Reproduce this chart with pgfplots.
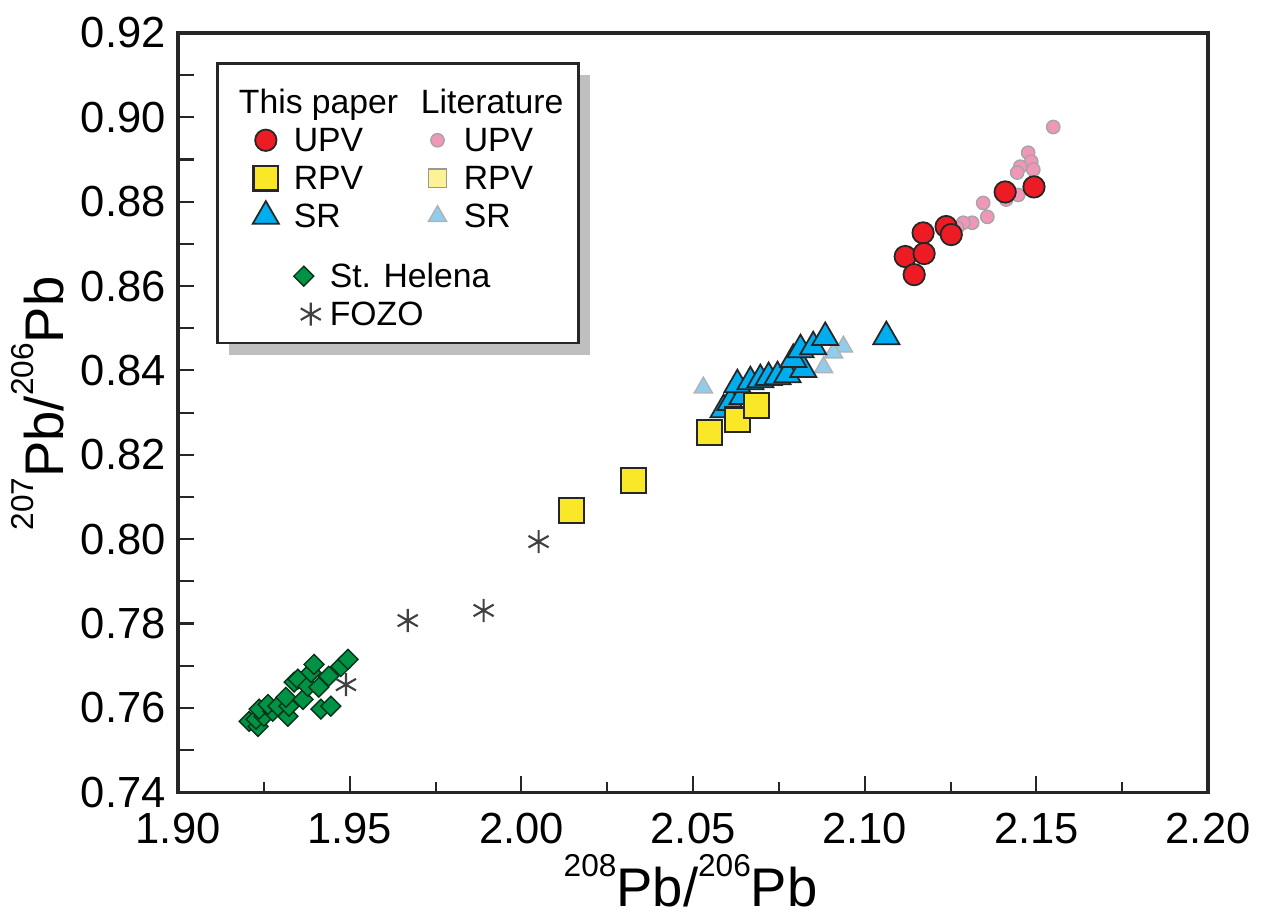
\documentclass[border=0pt]{standalone}
\usepackage{fontspec}
\setmainfont{Liberation Sans}
\usepackage{pgfplots}
\pgfplotsset{compat=1.18}
\usetikzlibrary{shadows}

\definecolor{upvred}{RGB}{237,28,36}
\definecolor{upvpink}{RGB}{240,150,185}
\definecolor{rpvyellow}{RGB}{250,232,40}
\definecolor{rpvlight}{RGB}{252,242,150}
\definecolor{srblue}{RGB}{0,174,239}
\definecolor{srlight}{RGB}{145,205,235}
\definecolor{shgreen}{RGB}{0,146,69}

\tikzset{
 upv/.style={only marks, mark=*, mark size=3.05pt, mark options={fill=upvred, draw=black!85, line width=0.5pt}},
 upvlit/.style={only marks, mark=*, mark size=1.9pt, mark options={fill=upvpink, draw=black!35, line width=0.4pt}},
 rpv/.style={only marks, mark=square*, mark size=3.5pt, mark options={fill=rpvyellow, draw=black!85, line width=0.6pt}},
 rpvlit/.style={only marks, mark=square*, mark size=2.6pt, mark options={fill=rpvlight, draw=black!40, line width=0.4pt}},
 sr/.style={only marks, mark=triangle*, mark size=4.3pt, mark options={fill=srblue, draw=black!85, line width=0.5pt}},
 srlit/.style={only marks, mark=triangle*, mark size=3.0pt, mark options={fill=srlight, draw=black!30, line width=0.4pt}},
 sth/.style={only marks, mark=square*, mark size=2.0pt, mark options={rotate=45, fill=shgreen, draw=black!65!shgreen, line width=0.4pt}},
 fozo/.style={only marks, mark=asterisk, mark size=3.3pt, mark options={draw=black!75, line width=0.6pt}},
}
\pgfplotsset{
 shiftedlegend/.style={legend image code/.code={\path (0,0) (4.7mm,0); \draw[##1,overlay] plot coordinates {(#1,0mm)};}},
}

\pgfplotstableread{
x y
2.1118 0.8670
2.1144 0.8627
2.1170 0.8726
2.1173 0.8677
2.1237 0.8741
2.1252 0.8722
2.1409 0.8823
2.1493 0.8835
}\upvdata

\pgfplotstableread{
x y
2.1549 0.8977
2.1476 0.8916
2.1485 0.8895
2.1491 0.8876
2.1453 0.8883
2.1444 0.8869
2.1447 0.8816
2.1412 0.8805
2.1345 0.8797
2.1357 0.8764
2.1313 0.8750
2.1287 0.8750
2.1269 0.8738
}\upvlitdata

\pgfplotstableread{
x y
2.0146 0.8068
2.0327 0.8139
2.0548 0.8253
2.0629 0.8283
2.0685 0.8317
}\rpvdata

\pgfplotstableread{
x y
2.0589 0.8307
2.0609 0.8324
2.0644 0.8338
2.0629 0.8366
2.0667 0.8373
2.0696 0.8378
2.0720 0.8383
2.0746 0.8385
2.0775 0.8390
2.0821 0.8402
2.0792 0.8426
2.0813 0.8449
2.0850 0.8456
2.0885 0.8478
2.1063 0.8480
}\srdata

\pgfplotstableread{
x y
2.0530 0.8359
2.0938 0.8456
2.0880 0.8407
2.0909 0.8442
}\srlitdata

\pgfplotstableread{
x y
1.9207 0.7568
1.9233 0.7556
1.9227 0.7573
1.9250 0.7580
1.9236 0.7597
1.9276 0.7592
1.9262 0.7608
1.9291 0.7604
1.9320 0.7580
1.9323 0.7604
1.9314 0.7625
1.9364 0.7620
1.9338 0.7661
1.9349 0.7668
1.9378 0.7651
1.9387 0.7684
1.9396 0.7703
1.9410 0.7649
1.9416 0.7597
1.9445 0.7604
1.9439 0.7675
1.9474 0.7698
1.9495 0.7715
}\sthdata

\pgfplotstableread{
x y
1.9489 0.7655
1.9669 0.7807
1.9890 0.7831
2.0050 0.7994
}\fozodata

\begin{document}
\begin{tikzpicture}
\begin{axis}[
 scale only axis, width=10.31cm, height=7.60cm,
 xmin=1.9, xmax=2.2, ymin=0.74, ymax=0.92,
 xtick={1.90,1.95,2.00,2.05,2.10,2.15,2.20},
 xticklabels={1.90,1.95,2.00,2.05,2.10,2.15,2.20},
 ytick={0.74,0.76,0.78,0.80,0.82,0.84,0.86,0.88,0.90,0.92},
 yticklabels={0.74,0.76,0.78,0.80,0.82,0.84,0.86,0.88,0.90,0.92},
 minor x tick num=1,
 extra y ticks={0.75,0.77,0.79,0.81,0.83,0.85,0.87,0.89,0.91},
 extra y tick labels={},
 tick align=inside, xtick pos=bottom, ytick pos=left,
 major tick length=1.6mm, minor tick length=1.0mm,
 axis line style={line width=0.9pt, black!85},
 every tick/.style={black!85, line width=0.6pt},
 ticklabel style={font=\fontsize{12.4}{14}\selectfont},
 xticklabel style={yshift=-0.8mm},
 xlabel={\raisebox{3.0mm}{\fontsize{9}{9}\selectfont 208}Pb/\raisebox{3.0mm}{\fontsize{9}{9}\selectfont 206}Pb},
 ylabel={\raisebox{3.0mm}{\fontsize{9}{9}\selectfont 207}Pb/\raisebox{3.0mm}{\fontsize{9}{9}\selectfont 206}Pb},
 xlabel style={at={(axis description cs:0.4976,-0.150)}, anchor=base, font=\fontsize{15.5}{18}\selectfont},
 ylabel style={at={(axis description cs:-0.111,0.512)}, anchor=base, font=\fontsize{15.5}{18}\selectfont},
 legend columns=2,
 legend cell align=left,
 legend image code/.code={\path (0,0) (4.7mm,0); \draw[#1] plot coordinates {(3.7mm,0mm)};},
 legend style={at={(axis description cs:0.0369,0.9618)}, anchor=north west,
   draw=black!85, line width=0.8pt, fill=white,
   drop shadow={shadow xshift=1.2mm, shadow yshift=-1.2mm, fill=black!25, opacity=1},
   inner xsep=1mm, inner ysep=1mm, row sep=0pt,
   font=\fontsize{9.6}{11}\selectfont,
   nodes={inner xsep=0.5mm, inner ysep=0pt, text height=3.07mm, text depth=0.73mm, line width=0.4pt},
   /tikz/column 2/.style={column sep=3.1mm},
   /tikz/every odd column/.append style={column sep=1.0mm},
 },
]
% legend entries
\addlegendimage{empty legend}\addlegendentry[text height=0.5mm, text depth=0.5mm]{}
\addlegendimage{empty legend}\addlegendentry[text height=0.5mm, text depth=0.5mm]{}
\addlegendimage{empty legend}\addlegendentry{\makebox[0pt][l]{\hspace*{-5.5mm}This paper}}
\addlegendimage{empty legend}\addlegendentry{\hspace*{-4.3mm}Literature}
\addlegendimage{upv}\addlegendentry{UPV}
\addlegendimage{upvlit}\addlegendentry{UPV}
\addlegendimage{rpv}\addlegendentry{RPV}
\addlegendimage{rpvlit}\addlegendentry{RPV}
\addlegendimage{sr}\addlegendentry{SR}
\addlegendimage{srlit}\addlegendentry{SR}
\addlegendimage{empty legend}\addlegendentry[text height=1.1mm, text depth=1.1mm]{}
\addlegendimage{empty legend}\addlegendentry[text height=1.1mm, text depth=1.1mm]{}
\addlegendimage{sth, shiftedlegend=7.5mm}\addlegendentry{\hspace*{3.6mm}\makebox[0pt][l]{St. Helena}}
\addlegendimage{empty legend}\addlegendentry{}
\addlegendimage{fozo, shiftedlegend=8.2mm}\addlegendentry{\hspace*{3.6mm}\makebox[0pt][l]{FOZO}}
\addlegendimage{empty legend}\addlegendentry{}
% data
\addplot[only marks, upvlit, forget plot] table {\upvlitdata};
\addplot[only marks, srlit, forget plot] table {\srlitdata};
\addplot[only marks, sr, forget plot] table {\srdata};
\addplot[only marks, rpv, forget plot] table {\rpvdata};
\addplot[only marks, upv, forget plot] table {\upvdata};
\addplot[only marks, sth, forget plot] table {\sthdata};
\addplot[only marks, fozo, forget plot] table {\fozodata};
\end{axis}
\path ([shift={(-17.7mm,-12.9mm)}]current axis.south west) rectangle ([shift={(5.5mm,3.3mm)}]current axis.north east);
\end{tikzpicture}
\end{document}
